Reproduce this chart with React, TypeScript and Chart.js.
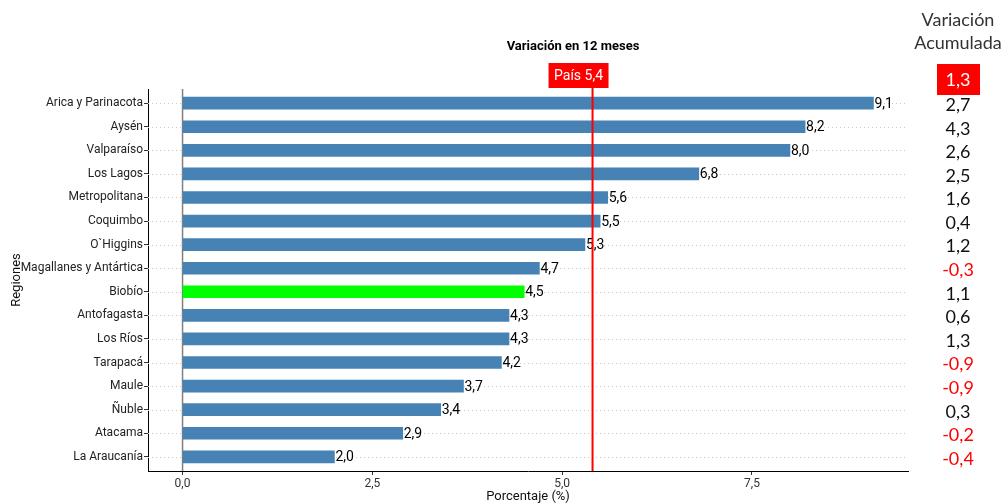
import React, { useEffect, useRef } from "react";
import { Chart, registerables } from "chart.js";

Chart.register(...registerables);

const regions = [
  "Arica y Parinacota",
  "Aysén",
  "Valparaíso",
  "Los Lagos",
  "Metropolitana",
  "Coquimbo",
  "O`Higgins",
  "Magallanes y Antártica",
  "Biobío",
  "Antofagasta",
  "Los Ríos",
  "Tarapacá",
  "Maule",
  "Ñuble",
  "Atacama",
  "La Araucanía",
];
const variation12 = [9.1, 8.2, 8.0, 6.8, 5.6, 5.5, 5.3, 4.7, 4.5, 4.3, 4.3, 4.2, 3.7, 3.4, 2.9, 2.0];
const accumulated = [2.7, 4.3, 2.6, 2.5, 1.6, 0.4, 1.2, -0.3, 1.1, 0.6, 1.3, -0.9, -0.9, 0.3, -0.2, -0.4];
const countryValue = 5.4;
const countryAccumulated = 1.3;
const countryLabel = "País";
const highlightRegion = "Biobío";
const xTicks = [0, 2.5, 5, 7.5];
const chartTitle = "Variación en 12 meses";
const rightHeader = ["Variación", "Acumulada"];
const xTitle = "Porcentaje (%)";
const yTitle = "Regiones";

const NARROW = "'Liberation Sans Narrow', 'Roboto', 'Liberation Sans', sans-serif";
const HUMAN = "Lato, 'Open Sans', sans-serif";

const fmt = (v: number) => v.toFixed(1).replace(".", ",");

const overlay = {
  id: "overlay",
  beforeDatasetsDraw(chart: any) {
    const { ctx, chartArea, scales } = chart;
    const xs = scales.x;
    const ys = scales.y;
    ctx.save();
    ctx.strokeStyle = "#c8c8c8";
    ctx.lineWidth = 1;
    ctx.setLineDash([1, 3]);
    regions.forEach((_, i) => {
      const y = Math.round(ys.getPixelForValue(i)) + 0.5;
      ctx.beginPath();
      ctx.moveTo(chartArea.left, y);
      ctx.lineTo(chartArea.right, y);
      ctx.stroke();
    });
    ctx.setLineDash([]);
    const x0 = xs.getPixelForValue(0);
    ctx.strokeStyle = "#808080";
    ctx.lineWidth = 1.5;
    ctx.beginPath();
    ctx.moveTo(x0, chartArea.top);
    ctx.lineTo(x0, chartArea.bottom);
    ctx.stroke();
    ctx.restore();
  },
  afterDatasetsDraw(chart: any) {
    const { ctx, chartArea, scales } = chart;
    const xs = scales.x;
    const ys = scales.y;
    ctx.save();
    // value labels
    ctx.fillStyle = "#000";
    ctx.font = `14px ${NARROW}`;
    ctx.textAlign = "left";
    ctx.textBaseline = "middle";
    variation12.forEach((v, i) => {
      ctx.fillText(fmt(v), xs.getPixelForValue(v) + 1, ys.getPixelForValue(i) + 1);
    });
    // country line
    const lx = xs.getPixelForValue(countryValue);
    ctx.strokeStyle = "#ff0000";
    ctx.lineWidth = 2;
    ctx.beginPath();
    ctx.moveTo(lx, chartArea.top - 2);
    ctx.lineTo(lx, chartArea.bottom);
    ctx.stroke();
    // country label box
    ctx.fillStyle = "#ff0000";
    ctx.fillRect(lx - 44, chartArea.top - 26, 60, 25);
    ctx.fillStyle = "#fff";
    ctx.font = `14px ${NARROW}`;
    ctx.textAlign = "center";
    ctx.fillText(`${countryLabel} ${fmt(countryValue)}`, lx - 14, chartArea.top - 13);
    // title
    ctx.fillStyle = "#000";
    ctx.font = `bold 13px ${NARROW}`;
    ctx.fillText(chartTitle, 573, 47);
    // right column
    const cx = 958;
    ctx.fillStyle = "#333";
    ctx.font = `18px ${HUMAN}`;
    ctx.fillText(rightHeader[0], cx, 20);
    ctx.fillText(rightHeader[1], cx, 43);
    ctx.fillStyle = "#ff0000";
    ctx.fillRect(937, 64, 43, 31);
    ctx.fillStyle = "#fff";
    ctx.fillText(fmt(countryAccumulated), cx, 80);
    accumulated.forEach((v, i) => {
      ctx.fillStyle = v < 0 ? "#ff0000" : "#111";
      ctx.fillText(fmt(v), cx, ys.getPixelForValue(i) + 2);
    });
    // axis titles
    ctx.fillStyle = "#111";
    ctx.font = `13px ${NARROW}`;
    ctx.fillText(xTitle, (chartArea.left + chartArea.right) / 2, 497);
    ctx.translate(17, (chartArea.top + chartArea.bottom) / 2);
    ctx.rotate(-Math.PI / 2);
    ctx.fillText(yTitle, 0, 0);
    ctx.restore();
  },
};

export default function App() {
  const ref = useRef<HTMLCanvasElement | null>(null);
  useEffect(() => {
    document.body.style.margin = "0";
    const canvas = ref.current!;
    const chart = new Chart(canvas, {
      type: "bar",
      data: {
        datasets: [
          {
            data: variation12.map((v, i) => ({ x: v, y: i })),
            backgroundColor: regions.map((r) => (r === highlightRegion ? "#00ff00" : "#4682b4")),
            barThickness: 12,
            borderWidth: 0,
          },
        ],
      },
      options: {
        indexAxis: "y",
        animation: false,
        responsive: true,
        maintainAspectRatio: false,
        layout: { padding: { left: 0, right: 96, top: 89, bottom: 0 } },
        plugins: { legend: { display: false }, tooltip: { enabled: false }, title: { display: false } },
        scales: {
          x: {
            type: "linear",
            min: -0.455,
            max: 9.555,
            offset: false,
            afterBuildTicks: (s: any) => {
              s.ticks = xTicks.map((v) => ({ value: v }));
            },
            afterFit: (s: any) => {
              s.height = 33;
            },
            ticks: {
              callback: (v: any) => fmt(Number(v)),
              color: "#333",
              font: { family: NARROW, size: 12 },
              padding: 2,
            },
            grid: { drawOnChartArea: false, drawTicks: true, tickLength: 4, tickColor: "#333", offset: false },
            border: { display: true, color: "#000", width: 1 },
          },
          y: {
            type: "linear",
            min: -0.6,
            max: regions.length - 1 + 0.6,
            reverse: true,
            offset: false,
            afterBuildTicks: (s: any) => {
              s.ticks = regions.map((_, i) => ({ value: i }));
            },
            afterFit: (s: any) => {
              s.width = 148;
            },
            ticks: {
              autoSkip: false,
              callback: (v: any) => regions[Number(v)] ?? "",
              color: "#222",
              font: { family: NARROW, size: 12 },
              padding: 1,
            },
            grid: { drawOnChartArea: false, drawTicks: true, tickLength: 4, tickColor: "#333", offset: false },
            border: { display: true, color: "#000", width: 1 },
          },
        },
      },
      plugins: [overlay],
    } as any);
    return () => chart.destroy();
  }, []);
  return (
    <div style={{ position: "fixed", left: 0, top: 0, width: 1004, height: 504, background: "#fff" }}>
      <canvas ref={ref} />
    </div>
  );
}
